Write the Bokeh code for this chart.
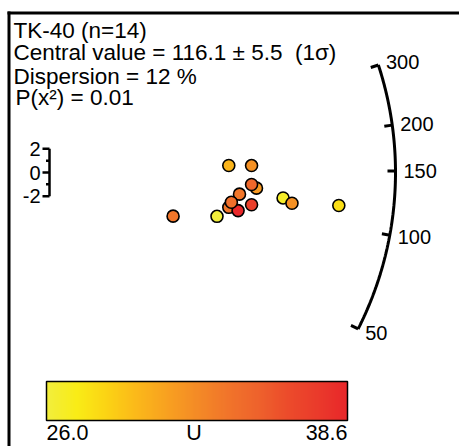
import numpy as np
from bokeh.plotting import figure
from bokeh.models import ColumnDataSource, LinearColorMapper, Range1d, Label
from bokeh.transform import linear_cmap
from bokeh.embed import file_html
from bokeh.resources import INLINE

# --- single-grain data (TK-40) ---
grain_age_ma = [161.6, 160.0, 126.3, 130.8, 116.3, 117.6, 113.2, 116.3,
                97.9, 96.3, 104.6, 105.5, 69.6, 84.7]
grain_rel_err_pct = [14.2, 12.6, 12.3, 12.6, 13.4, 10.9, 10.5, 8.8,
                     14.2, 13.5, 14.0, 12.6, 20.6, 15.2]
grain_uranium = [30.0, 32.0, 31.5, 34.5, 33.5, 26.6, 32.0, 28.0,
                 33.5, 38.6, 34.0, 37.0, 33.5, 26.0]

sample_name = "TK-40"
central_value = 116.1
central_err = 5.5
dispersion_pct = 12
p_chi2 = 0.01

arc_ticks = [50, 100, 150, 200, 300]
z_ticks = [-2, -1, 0, 1, 2]
z_tick_labels = {-2: "-2", 0: "0", 2: "2"}
u_min, u_max = 26.0, 38.6
heat_stops = ["#f2ee3c", "#f9ec16", "#fbd314", "#fbb81a", "#f8a120", "#f48b26",
              "#f1752a", "#ee632c", "#ec4c2b", "#ea3b2b", "#e8272a"]

# --- palette: interpolate the stops to 256 colours ---
def _rgb(h):
    return np.array([int(h[i:i + 2], 16) for i in (1, 3, 5)], dtype=float)

stop_rgb = np.array([_rgb(c) for c in heat_stops])
pos = np.linspace(0, 1, len(heat_stops))
fine = np.linspace(0, 1, 256)
palette = ["#%02x%02x%02x" % tuple(int(round(np.interp(f, pos, stop_rgb[:, k]))) for k in range(3))
           for f in fine]

# --- radial plot geometry (pixel scale per unit of precision / standard estimate) ---
W, H = 459, 446
OX, OY = 49.0, 172.0
SX, SY = 25.46, 11.85
Z0 = np.log(148.6)
R_ARC = 346.0
FONT = "Liberation Sans"
INK = "black"

def px(xp):
    return (xp - OX) / SX

def py(yp):
    return (OY - yp) / SY

p = figure(width=W, height=H, output_backend="svg", toolbar_location=None,
           x_range=Range1d(px(0), px(W)), y_range=Range1d(py(H), py(0)),
           x_axis_location=None, y_axis_location=None, min_border=0)
p.grid.visible = False
p.outline_line_color = None
p.background_fill_color = "white"
p.border_fill_color = "white"

# frame edges
p.line([px(7), px(W)], [py(12.5), py(12.5)], line_color=INK, line_width=3)
p.line([px(8.5), px(8.5)], [py(11), py(H)], line_color=INK, line_width=3)

# --- arc with log-age scale ---
def arc_angle(t):
    return np.arctan((np.log(t) - Z0) * SY / SX)

def arc_xy(t, r):
    th = arc_angle(np.asarray(t, dtype=float))
    return r * np.cos(th) / SX, r * np.sin(th) / SY

t_line = np.exp(np.linspace(np.log(min(arc_ticks)), np.log(max(arc_ticks)), 200))
ax, ay = arc_xy(t_line, R_ARC)
p.line(ax, ay, line_color=INK, line_width=3)
for t in arc_ticks:
    x1, y1 = arc_xy(t, R_ARC)
    x0, y0 = arc_xy(t, R_ARC - 8)
    p.line([x0, x1], [y0, y1], line_color=INK, line_width=3)
    lx, ly = arc_xy(t, R_ARC + 8)
    p.add_layout(Label(x=float(lx), y=float(ly), text=str(t), text_font=FONT,
                       text_color=INK, text_font_size="20px",
                       text_align="left", text_baseline="middle"))

# --- standard-estimate scale ---
p.line([0, 0], [min(z_ticks), max(z_ticks)], line_color=INK, line_width=2.5)
for z in z_ticks:
    tick_len = 7 if z in z_tick_labels else 3.5
    p.line([-tick_len / SX, 0], [z, z], line_color=INK, line_width=2.5)
    if z in z_tick_labels:
        p.add_layout(Label(x=px(40), y=z, text=z_tick_labels[z], text_font=FONT,
                           text_color=INK, text_font_size="20px",
                           text_align="right", text_baseline="middle"))

# --- grains ---
prec = 100.0 / np.array(grain_rel_err_pct)
zstd = (np.log(np.array(grain_age_ma)) - Z0) * prec
src = ColumnDataSource(dict(x=prec, y=zstd, U=grain_uranium))
p.scatter("x", "y", source=src, size=12, line_color=INK, line_width=1.6,
          fill_color=linear_cmap("U", palette, u_min, u_max))

# --- header text ---
header = [f"{sample_name} (n={len(grain_age_ma)})",
          f"Central value = {central_value} \u00b1 {central_err} \u00a0(1\u03c3)",
          f"Dispersion = {dispersion_pct} %",
          f"P(x\u00b2) = {p_chi2}"]
mids = [29.5, 52, 75.5, 97]
lefts = [13, 13, 13, 15]
for txt, m, l in zip(header, mids, lefts):
    p.add_layout(Label(x=px(l), y=py(m), text=txt, text_font=FONT, text_color=INK,
                       text_font_size="22.5px", text_align="left", text_baseline="middle"))

# --- colour bar for U ---
mapper = LinearColorMapper(palette=palette, low=u_min, high=u_max)
grad = np.linspace(u_min, u_max, 256).reshape(1, 256)
cb_l, cb_r, cb_t, cb_b = 46, 347, 381, 420
p.image(image=[grad], x=px(cb_l), y=py(cb_b), dw=(cb_r - cb_l) / SX, dh=(cb_b - cb_t) / SY,
        color_mapper=mapper)
p.quad(left=px(cb_l), right=px(cb_r), bottom=py(cb_b), top=py(cb_t),
       fill_color=None, line_color=INK, line_width=1.5)
for txt, xx, al in [(f"{u_min:.1f}", cb_l, "left"), ("U", (cb_l + cb_r) / 2 - 3, "center"),
                    (f"{u_max:.1f}", cb_r, "right")]:
    p.add_layout(Label(x=px(xx), y=py(432), text=txt, text_font=FONT, text_color=INK,
                       text_font_size="21.5px", text_align=al, text_baseline="middle"))

open("out.html", "w").write(file_html(p, INLINE))
